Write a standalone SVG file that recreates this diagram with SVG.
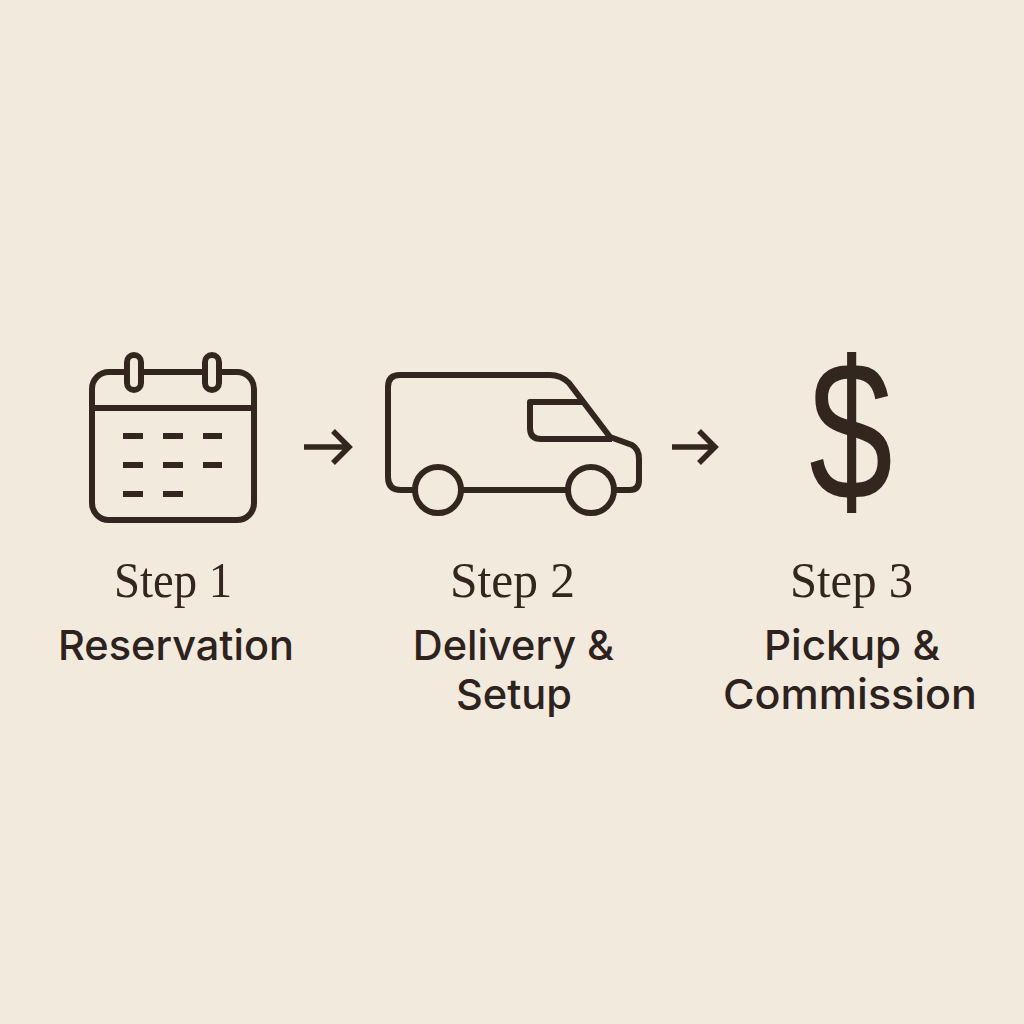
<svg xmlns="http://www.w3.org/2000/svg" width="1024" height="1024" viewBox="0 0 1024 1024">
<style>
.l{fill:none;stroke:#33261f;stroke-width:6;stroke-linejoin:round;stroke-linecap:butt}
.r{fill:#f2eadc;stroke:#33261f;stroke-width:6}
.d{fill:none;stroke:#33261f;stroke-width:6;stroke-linecap:butt}
.a{fill:none;stroke:#33261f;stroke-width:5.5;stroke-linejoin:miter;stroke-linecap:butt}
.s{font-family:"Liberation Serif",serif;font-size:50px;fill:#33261f;text-anchor:middle}
.t{font-family:"Inter","Liberation Sans",sans-serif;font-size:41.5px;font-weight:500;fill:#2d221d;text-anchor:middle}
</style>
<rect width="1024" height="1024" fill="#f2eadc"/>
<g id="calendar">
<rect class="l" x="92" y="372" width="162" height="148" rx="17"/>
<path class="l" d="M92 408H254"/>
<rect class="r" x="127" y="355" width="14" height="35" rx="7"/>
<rect class="r" x="205" y="355" width="14" height="35" rx="7"/>
<path class="d" d="M123 436H143M163 436H183M203 436H222M123 465H143M163 465H183M203 465H222M123 494H143M163 494H183"/>
<text class="s" x="173" y="597" textLength="118" lengthAdjust="spacingAndGlyphs">Step 1</text>
<text class="t" x="176" y="659.500">Reservation</text>
</g>
<g id="van">
<path class="l" d="M417 490H401Q388 490 388 477V387Q388 375 400 375H550Q561 375 569 383L610 437L632 445Q639 449 639 459V480Q639 490 630 490H615M461 490H568"/>
<path class="l" d="M583 402H530V428Q530 439 541 439H612"/>
<circle class="l" cx="438" cy="490" r="23"/>
<circle class="l" cx="591" cy="490" r="23"/>
<text class="s" x="512.500" y="597" textLength="125" lengthAdjust="spacingAndGlyphs">Step 2</text>
<text class="t" x="513.500" y="659.500">Delivery &amp;</text>
<text class="t" x="514" y="708.500" textLength="116" lengthAdjust="spacingAndGlyphs">Setup</text>
</g>
<g id="dollar">
<text transform="translate(851 499) scale(.81 1.066)" font-family="Liberation Sans,sans-serif" font-size="186" fill="#33261f" text-anchor="middle">$</text>
<text class="s" x="851.500" y="597" textLength="123" lengthAdjust="spacingAndGlyphs">Step 3</text>
<text class="t" x="852" y="659.500" textLength="176" lengthAdjust="spacingAndGlyphs">Pickup &amp;</text>
<text class="t" x="850" y="708.500" textLength="254" lengthAdjust="spacingAndGlyphs">Commission</text>
</g>
<g id="connectors">
<path class="a" d="M304 447H349M333 431L349 447L333 463"/>
<path class="a" d="M672 447H715M699 431L715 447L699 463"/>
</g>
</svg>
